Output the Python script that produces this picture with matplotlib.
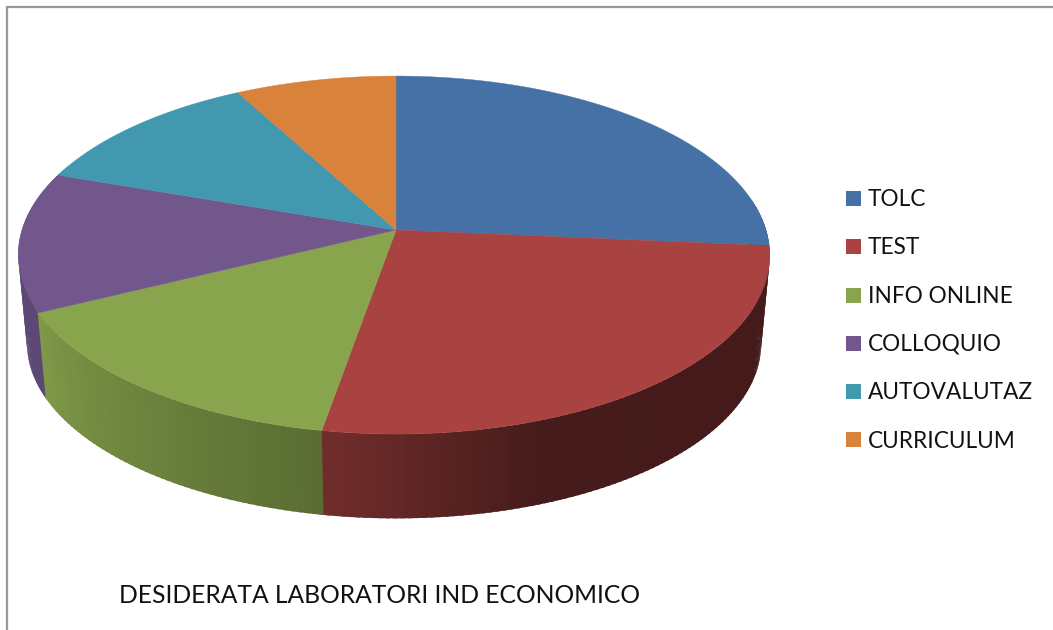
import numpy as np
import matplotlib
matplotlib.use("Agg")
import matplotlib.pyplot as plt
from matplotlib.patches import Polygon, Rectangle

categories = ["TOLC", "TEST", "INFO ONLINE", "COLLOQUIO", "AUTOVALUTAZ", "CURRICULUM"]
values = [26.4, 26.35, 14.95, 12.6, 11.8, 7.9]
colors = ["#4571A6", "#A84341", "#88A44D", "#72578D", "#4198AF", "#D8823C"]
title = "DESIDERATA LABORATORI IND ECONOMICO"

W, H = 1053, 630
fig = plt.figure(figsize=(W / 100, H / 100), dpi=100, facecolor="white")
ax = fig.add_axes([0, 0, 1, 1])
ax.set_xlim(0, W)
ax.set_ylim(H, 0)
ax.axis("off")
plt.rcParams["font.family"] = ["Lato", "DejaVu Sans"]

# frame: only left and top edges show
ax.plot([7, 7, W], [H, 6.5, 6.5], color="#999999", lw=1.6, solid_joinstyle="miter")

CX, CY, A, B, K = 394.0, 230.0, 372.0, 175.5, -0.14
DROP, SCALE = 89.0, 0.977


def rim(phi, bottom=False):
    """Perspective projection of the disc rim; phi in degrees clockwise from 12 o'clock."""
    r = np.radians(phi)
    X, Y = np.sin(r), -np.cos(r)
    d = 1 + K * Y
    x, y = A * X / d, B * Y / d
    off = 2.0 * Y ** 2
    if bottom:
        return CX + off + SCALE * x, CY + SCALE * y + DROP
    return CX + off + x, CY + y


def shade_at(phi, idx):
    if idx == 3:
        return 0.82
    return np.interp(phi, [90, 160, 187, 243], [0.40, 0.41, 0.65, 0.93])


def darker(col, f):
    return tuple(c * f for c in matplotlib.colors.to_rgb(col))


edges = np.concatenate([[0], np.cumsum(values)]) / sum(values) * 360


def side_strip(p0, p1, i, col):
    c = darker(col, shade_at((p0 + p1) / 2, i))
    ph = np.linspace(p0, p1 + 0.6, 4)
    xt, yt = rim(ph)
    xb, yb = rim(ph[::-1], True)
    pts = np.column_stack([np.r_[xt, xb], np.r_[yt, yb]])
    ax.add_patch(Polygon(pts, closed=True, fc=c, ec="none"))


# side wall: each later strip overlaps the previous one so no seams show
def slice_strips(i, limit_lo, limit_hi):
    lo, hi = max(edges[i], limit_lo), min(edges[i + 1], limit_hi)
    ph = np.linspace(lo, hi, max(2, int(hi - lo)) + 1)
    return list(zip(ph[:-1], ph[1:]))


for i in (0, 1):
    for p0, p1 in slice_strips(i, 80, 360):
        side_strip(p0, p1, i, colors[i])
for i in (4, 3, 2):
    for p0, p1 in reversed(slice_strips(i, 0, 292)):
        side_strip(p0, p1, i, colors[i])

# top face
for i, col in enumerate(colors):
    ph = np.linspace(edges[i], edges[i + 1], 120)
    x, y = rim(ph)
    pts = np.column_stack([np.r_[CX + 2.0, x], np.r_[CY, y]])
    ax.add_patch(Polygon(pts, closed=True, fc=col, ec=col, lw=0.3))

# legend
text_base = [206, 254, 303, 351, 399, 448]
box_y = [198, 246, 295, 343, 391, 439]
for name, col, ty, by in zip(categories, colors, text_base, box_y):
    ax.add_patch(Rectangle((846, by - 7.5), 15, 15, fc=col, ec="none"))
    ax.text(868, ty, name, fontsize=16.3, color="#111111", va="baseline", ha="left")

ax.text(119, 603, title, fontsize=17.7, color="#111111", va="baseline", ha="left")

fig.savefig("out.png", dpi=100, facecolor="white")
